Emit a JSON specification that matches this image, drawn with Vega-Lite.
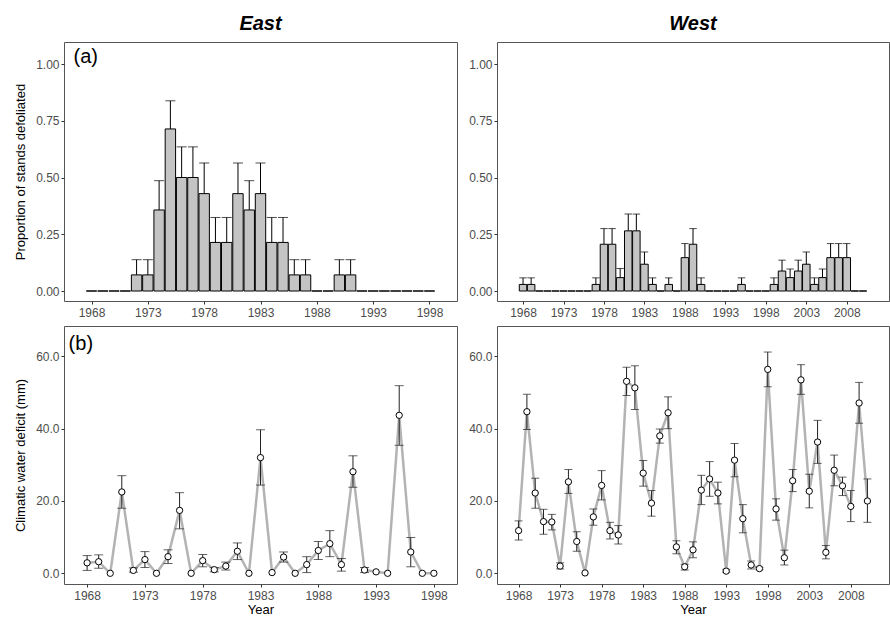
{
  "$schema": "https://vega.github.io/schema/vega-lite/v6.json",
  "background": "white",
  "padding": {"left": 14, "top": 13, "right": 1, "bottom": 2},
  "config": {
    "font": "Liberation Sans",
    "view": {"stroke": "#555555", "strokeWidth": 1},
    "axis": {"grid": false, "domain": false, "tickColor": "#333333", "tickSize": 3, "labelColor": "#4d4d4d", "labelFontSize": 12, "labelFont": "Liberation Sans", "titleFont": "Liberation Sans", "titleFontSize": 13, "titleFontWeight": "normal", "titleColor": "#000000", "labelPadding": 2, "titlePadding": 8},
    "axisX": {"titlePadding": 2, "labelPadding": 3},
    "title": {"font": "Liberation Sans", "fontSize": 20, "fontWeight": "bold", "fontStyle": "italic", "anchor": "middle", "offset": 8, "color": "#000000"}
  },
  "datasets": {
    "eastA": [
      {"year": 1968, "p": 0, "hi": null}, {"year": 1969, "p": 0, "hi": null}, {"year": 1970, "p": 0, "hi": null}, {"year": 1971, "p": 0, "hi": null},
      {"year": 1972, "p": 0.071, "hi": 0.138}, {"year": 1973, "p": 0.071, "hi": 0.138}, {"year": 1974, "p": 0.357, "hi": 0.486}, {"year": 1975, "p": 0.714, "hi": 0.838},
      {"year": 1976, "p": 0.5, "hi": 0.635}, {"year": 1977, "p": 0.5, "hi": 0.635}, {"year": 1978, "p": 0.429, "hi": 0.564}, {"year": 1979, "p": 0.214, "hi": 0.324},
      {"year": 1980, "p": 0.214, "hi": 0.324}, {"year": 1981, "p": 0.429, "hi": 0.564}, {"year": 1982, "p": 0.357, "hi": 0.486}, {"year": 1983, "p": 0.429, "hi": 0.564},
      {"year": 1984, "p": 0.214, "hi": 0.324}, {"year": 1985, "p": 0.214, "hi": 0.324}, {"year": 1986, "p": 0.071, "hi": 0.138}, {"year": 1987, "p": 0.071, "hi": 0.138},
      {"year": 1988, "p": 0, "hi": null}, {"year": 1989, "p": 0, "hi": null}, {"year": 1990, "p": 0.071, "hi": 0.138}, {"year": 1991, "p": 0.071, "hi": 0.138},
      {"year": 1992, "p": 0, "hi": null}, {"year": 1993, "p": 0, "hi": null}, {"year": 1994, "p": 0, "hi": null}, {"year": 1995, "p": 0, "hi": null},
      {"year": 1996, "p": 0, "hi": null}, {"year": 1997, "p": 0, "hi": null}, {"year": 1998, "p": 0, "hi": null}
    ],
    "westA": [
      {"year": 1968, "p": 0.029, "hi": 0.058}, {"year": 1969, "p": 0.029, "hi": 0.058},
      {"year": 1970, "p": 0, "hi": null}, {"year": 1971, "p": 0, "hi": null}, {"year": 1972, "p": 0, "hi": null}, {"year": 1973, "p": 0, "hi": null},
      {"year": 1974, "p": 0, "hi": null}, {"year": 1975, "p": 0, "hi": null}, {"year": 1976, "p": 0, "hi": null},
      {"year": 1977, "p": 0.029, "hi": 0.058}, {"year": 1978, "p": 0.206, "hi": 0.275}, {"year": 1979, "p": 0.206, "hi": 0.275}, {"year": 1980, "p": 0.059, "hi": 0.099},
      {"year": 1981, "p": 0.265, "hi": 0.339}, {"year": 1982, "p": 0.265, "hi": 0.339}, {"year": 1983, "p": 0.118, "hi": 0.172}, {"year": 1984, "p": 0.029, "hi": 0.058},
      {"year": 1985, "p": 0, "hi": null}, {"year": 1986, "p": 0.029, "hi": 0.058}, {"year": 1987, "p": 0, "hi": null},
      {"year": 1988, "p": 0.147, "hi": 0.209}, {"year": 1989, "p": 0.206, "hi": 0.275}, {"year": 1990, "p": 0.029, "hi": 0.058},
      {"year": 1991, "p": 0, "hi": null}, {"year": 1992, "p": 0, "hi": null}, {"year": 1993, "p": 0, "hi": null}, {"year": 1994, "p": 0, "hi": null},
      {"year": 1995, "p": 0.029, "hi": 0.058}, {"year": 1996, "p": 0, "hi": null}, {"year": 1997, "p": 0, "hi": null}, {"year": 1998, "p": 0, "hi": null},
      {"year": 1999, "p": 0.029, "hi": 0.058}, {"year": 2000, "p": 0.088, "hi": 0.136}, {"year": 2001, "p": 0.059, "hi": 0.097}, {"year": 2002, "p": 0.088, "hi": 0.136},
      {"year": 2003, "p": 0.118, "hi": 0.172}, {"year": 2004, "p": 0.029, "hi": 0.058}, {"year": 2005, "p": 0.059, "hi": 0.097}, {"year": 2006, "p": 0.147, "hi": 0.209},
      {"year": 2007, "p": 0.147, "hi": 0.209}, {"year": 2008, "p": 0.147, "hi": 0.209}, {"year": 2009, "p": 0, "hi": null}, {"year": 2010, "p": 0, "hi": null}
    ],
    "eastB": [
      {"year": 1968, "cwd": 2.9, "lo": 0.8, "hi": 4.9}, {"year": 1969, "cwd": 3.2, "lo": 1.4, "hi": 5.1}, {"year": 1970, "cwd": 0.0, "lo": null, "hi": null},
      {"year": 1971, "cwd": 22.5, "lo": 18.0, "hi": 27.0}, {"year": 1972, "cwd": 0.8, "lo": 0.3, "hi": 1.5}, {"year": 1973, "cwd": 3.8, "lo": 1.6, "hi": 6.0},
      {"year": 1974, "cwd": 0.0, "lo": null, "hi": null}, {"year": 1975, "cwd": 4.6, "lo": 2.7, "hi": 6.5}, {"year": 1976, "cwd": 17.4, "lo": 12.3, "hi": 22.3},
      {"year": 1977, "cwd": 0.0, "lo": null, "hi": null}, {"year": 1978, "cwd": 3.5, "lo": 1.8, "hi": 5.2}, {"year": 1979, "cwd": 1.0, "lo": 0.4, "hi": 1.6},
      {"year": 1980, "cwd": 2.0, "lo": 0.9, "hi": 3.1}, {"year": 1981, "cwd": 6.1, "lo": 3.8, "hi": 8.4}, {"year": 1982, "cwd": 0.0, "lo": null, "hi": null},
      {"year": 1983, "cwd": 32.0, "lo": 24.4, "hi": 39.7}, {"year": 1984, "cwd": 0.2, "lo": null, "hi": null}, {"year": 1985, "cwd": 4.5, "lo": 3.1, "hi": 5.9},
      {"year": 1986, "cwd": 0.0, "lo": null, "hi": null}, {"year": 1987, "cwd": 2.4, "lo": 0.2, "hi": 4.6}, {"year": 1988, "cwd": 6.3, "lo": 3.8, "hi": 8.8},
      {"year": 1989, "cwd": 8.2, "lo": 4.6, "hi": 11.8}, {"year": 1990, "cwd": 2.4, "lo": 0.6, "hi": 4.1}, {"year": 1991, "cwd": 28.1, "lo": 23.8, "hi": 32.5},
      {"year": 1992, "cwd": 0.9, "lo": 0.2, "hi": 1.6}, {"year": 1993, "cwd": 0.4, "lo": null, "hi": null}, {"year": 1994, "cwd": 0.0, "lo": null, "hi": null},
      {"year": 1995, "cwd": 43.7, "lo": 35.4, "hi": 51.9}, {"year": 1996, "cwd": 5.9, "lo": 1.8, "hi": 9.9}, {"year": 1997, "cwd": 0.0, "lo": null, "hi": null},
      {"year": 1998, "cwd": 0.0, "lo": null, "hi": null}
    ],
    "westB": [
      {"year": 1968, "cwd": 11.8, "lo": 9.2, "hi": 14.5}, {"year": 1969, "cwd": 44.7, "lo": 39.8, "hi": 49.5}, {"year": 1970, "cwd": 22.2, "lo": 18.0, "hi": 26.3},
      {"year": 1971, "cwd": 14.3, "lo": 10.8, "hi": 17.7}, {"year": 1972, "cwd": 14.2, "lo": 12.0, "hi": 16.3}, {"year": 1973, "cwd": 2.0, "lo": 1.2, "hi": 2.9},
      {"year": 1974, "cwd": 25.3, "lo": 22.1, "hi": 28.7}, {"year": 1975, "cwd": 8.8, "lo": 6.1, "hi": 11.5}, {"year": 1976, "cwd": 0.1, "lo": null, "hi": null},
      {"year": 1977, "cwd": 15.6, "lo": 13.3, "hi": 17.8}, {"year": 1978, "cwd": 24.3, "lo": 20.3, "hi": 28.4}, {"year": 1979, "cwd": 11.8, "lo": 9.5, "hi": 14.1},
      {"year": 1980, "cwd": 10.6, "lo": 8.1, "hi": 13.2}, {"year": 1981, "cwd": 53.1, "lo": 49.2, "hi": 57.0}, {"year": 1982, "cwd": 51.3, "lo": 45.3, "hi": 57.4},
      {"year": 1983, "cwd": 27.7, "lo": 24.1, "hi": 31.2}, {"year": 1984, "cwd": 19.4, "lo": 15.8, "hi": 22.9}, {"year": 1985, "cwd": 38.0, "lo": 36.0, "hi": 39.9},
      {"year": 1986, "cwd": 44.4, "lo": 40.0, "hi": 48.8}, {"year": 1987, "cwd": 7.3, "lo": 5.4, "hi": 9.0}, {"year": 1988, "cwd": 1.8, "lo": 0.9, "hi": 2.5},
      {"year": 1989, "cwd": 6.5, "lo": 4.3, "hi": 8.7}, {"year": 1990, "cwd": 23.0, "lo": 19.0, "hi": 27.1}, {"year": 1991, "cwd": 26.1, "lo": 21.3, "hi": 30.9},
      {"year": 1992, "cwd": 22.2, "lo": 19.2, "hi": 25.2}, {"year": 1993, "cwd": 0.6, "lo": 0.3, "hi": 1.1}, {"year": 1994, "cwd": 31.3, "lo": 26.7, "hi": 35.9},
      {"year": 1995, "cwd": 15.1, "lo": 11.2, "hi": 19.0}, {"year": 1996, "cwd": 2.3, "lo": 1.2, "hi": 3.4}, {"year": 1997, "cwd": 1.3, "lo": 1.0, "hi": 1.7},
      {"year": 1998, "cwd": 56.4, "lo": 51.6, "hi": 61.2}, {"year": 1999, "cwd": 17.8, "lo": 14.7, "hi": 20.6}, {"year": 2000, "cwd": 4.3, "lo": 2.3, "hi": 6.4},
      {"year": 2001, "cwd": 25.6, "lo": 22.6, "hi": 28.7}, {"year": 2002, "cwd": 53.5, "lo": 49.5, "hi": 57.7}, {"year": 2003, "cwd": 22.7, "lo": 18.1, "hi": 27.4},
      {"year": 2004, "cwd": 36.3, "lo": 30.4, "hi": 42.3}, {"year": 2005, "cwd": 5.8, "lo": 4.0, "hi": 7.7}, {"year": 2006, "cwd": 28.5, "lo": 24.2, "hi": 32.7},
      {"year": 2007, "cwd": 24.2, "lo": 21.5, "hi": 26.6}, {"year": 2008, "cwd": 18.5, "lo": 14.3, "hi": 22.9}, {"year": 2009, "cwd": 47.1, "lo": 41.5, "hi": 52.8},
      {"year": 2010, "cwd": 20.0, "lo": 14.1, "hi": 26.1}
    ],
    "labelA": [{"label": "(a)"}],
    "labelB": [{"label": "(b)"}]
  },
  "columns": 2,
  "spacing": {"row": 25, "column": 40},
  "bounds": "flush",
  "concat": [
    {
      "width": 393, "height": 259,
      "title": "East",
      "layer": [
        {"data": {"name": "eastA"},
         "mark": {"type": "rule", "color": "#000000", "strokeWidth": 1},
         "encoding": {
           "x": {"field": "year", "type": "quantitative", "scale": {"domain": [1966.0, 2000.0], "nice": false, "zero": false},
                 "axis": {"values": [1968, 1973, 1978, 1983, 1988, 1993, 1998], "format": "d", "title": null}},
           "y": {"field": "hi", "type": "quantitative", "scale": {"domain": [-0.044, 1.097], "nice": false, "zero": false},
                 "axis": {"values": [0, 0.25, 0.5, 0.75, 1], "format": ".2f", "title": "Proportion of stands defoliated"}},
           "y2": {"field": "p"}}},
        {"data": {"name": "eastA"},
         "mark": {"type": "tick", "orient": "horizontal", "size": 10, "thickness": 1, "color": "#000000"},
         "encoding": {"x": {"field": "year", "type": "quantitative"}, "y": {"field": "hi", "type": "quantitative"}}},
        {"data": {"name": "eastA"},
         "mark": {"type": "bar", "width": 10.4, "fill": "#c4c4c4", "stroke": "#000000", "strokeWidth": 1},
         "encoding": {"x": {"field": "year", "type": "quantitative"}, "y": {"field": "p", "type": "quantitative"}}},
        {"data": {"name": "labelA"},
         "mark": {"type": "text", "align": "left", "baseline": "middle", "fontSize": 20, "color": "#000000"},
         "encoding": {"x": {"datum": 1966.4, "type": "quantitative"}, "y": {"datum": 1.03, "type": "quantitative"}, "text": {"field": "label", "type": "nominal"}}}
      ]
    },
    {
      "width": 392, "height": 259,
      "title": "West",
      "data": {"name": "westA"},
      "layer": [
        {"mark": {"type": "rule", "color": "#000000", "strokeWidth": 1},
         "encoding": {
           "x": {"field": "year", "type": "quantitative", "scale": {"domain": [1965.4, 2012.6], "nice": false, "zero": false},
                 "axis": {"values": [1968, 1973, 1978, 1983, 1988, 1993, 1998, 2003, 2008], "format": "d", "title": null}},
           "y": {"field": "hi", "type": "quantitative", "scale": {"domain": [-0.044, 1.097], "nice": false, "zero": false},
                 "axis": {"values": [0, 0.25, 0.5, 0.75, 1], "format": ".2f", "title": null}},
           "y2": {"field": "p"}}},
        {"mark": {"type": "tick", "orient": "horizontal", "size": 7.5, "thickness": 1, "color": "#000000"},
         "encoding": {"x": {"field": "year", "type": "quantitative"}, "y": {"field": "hi", "type": "quantitative"}}},
        {"mark": {"type": "bar", "width": 7.5, "fill": "#c4c4c4", "stroke": "#000000", "strokeWidth": 1},
         "encoding": {"x": {"field": "year", "type": "quantitative"}, "y": {"field": "p", "type": "quantitative"}}}
      ]
    },
    {
      "width": 393, "height": 258,
      "layer": [
        {"data": {"name": "eastB"},
         "mark": {"type": "line", "color": "#b3b3b3", "strokeWidth": 2.5},
         "encoding": {
           "x": {"field": "year", "type": "quantitative", "scale": {"domain": [1966.0, 2000.0], "nice": false, "zero": false},
                 "axis": {"values": [1968, 1973, 1978, 1983, 1988, 1993, 1998], "format": "d", "title": "Year"}},
           "y": {"field": "cwd", "type": "quantitative", "scale": {"domain": [-2.96, 68.4], "nice": false, "zero": false},
                 "axis": {"values": [0, 20, 40, 60], "format": ".1f", "title": "Climatic water deficit (mm)"}}}},
        {"data": {"name": "eastB"},
         "mark": {"type": "rule", "color": "#222222", "strokeWidth": 1},
         "encoding": {"x": {"field": "year", "type": "quantitative"}, "y": {"field": "lo", "type": "quantitative"}, "y2": {"field": "hi"}}},
        {"data": {"name": "eastB"},
         "mark": {"type": "tick", "orient": "horizontal", "size": 9, "thickness": 1, "color": "#222222"},
         "encoding": {"x": {"field": "year", "type": "quantitative"}, "y": {"field": "lo", "type": "quantitative"}}},
        {"data": {"name": "eastB"},
         "mark": {"type": "tick", "orient": "horizontal", "size": 9, "thickness": 1, "color": "#222222"},
         "encoding": {"x": {"field": "year", "type": "quantitative"}, "y": {"field": "hi", "type": "quantitative"}}},
        {"data": {"name": "eastB"},
         "mark": {"type": "point", "shape": "circle", "filled": true, "fill": "#ffffff", "stroke": "#000000", "strokeWidth": 1, "size": 40, "opacity": 1},
         "encoding": {"x": {"field": "year", "type": "quantitative"}, "y": {"field": "cwd", "type": "quantitative"}}},
        {"data": {"name": "labelB"},
         "mark": {"type": "text", "align": "left", "baseline": "middle", "fontSize": 20, "color": "#000000"},
         "encoding": {"x": {"datum": 1966.4, "type": "quantitative"}, "y": {"datum": 63.4, "type": "quantitative"}, "text": {"field": "label", "type": "nominal"}}}
      ]
    },
    {
      "width": 392, "height": 258,
      "data": {"name": "westB"},
      "layer": [
        {"mark": {"type": "line", "color": "#b3b3b3", "strokeWidth": 2.5},
         "encoding": {
           "x": {"field": "year", "type": "quantitative", "scale": {"domain": [1965.4, 2012.6], "nice": false, "zero": false},
                 "axis": {"values": [1968, 1973, 1978, 1983, 1988, 1993, 1998, 2003, 2008], "format": "d", "title": "Year"}},
           "y": {"field": "cwd", "type": "quantitative", "scale": {"domain": [-2.96, 68.4], "nice": false, "zero": false},
                 "axis": {"values": [0, 20, 40, 60], "format": ".1f", "title": null}}}},
        {"mark": {"type": "rule", "color": "#222222", "strokeWidth": 1},
         "encoding": {"x": {"field": "year", "type": "quantitative"}, "y": {"field": "lo", "type": "quantitative"}, "y2": {"field": "hi"}}},
        {"mark": {"type": "tick", "orient": "horizontal", "size": 8, "thickness": 1, "color": "#222222"},
         "encoding": {"x": {"field": "year", "type": "quantitative"}, "y": {"field": "lo", "type": "quantitative"}}},
        {"mark": {"type": "tick", "orient": "horizontal", "size": 8, "thickness": 1, "color": "#222222"},
         "encoding": {"x": {"field": "year", "type": "quantitative"}, "y": {"field": "hi", "type": "quantitative"}}},
        {"mark": {"type": "point", "shape": "circle", "filled": true, "fill": "#ffffff", "stroke": "#000000", "strokeWidth": 1, "size": 40, "opacity": 1},
         "encoding": {"x": {"field": "year", "type": "quantitative"}, "y": {"field": "cwd", "type": "quantitative"}}}
      ]
    }
  ]
}
